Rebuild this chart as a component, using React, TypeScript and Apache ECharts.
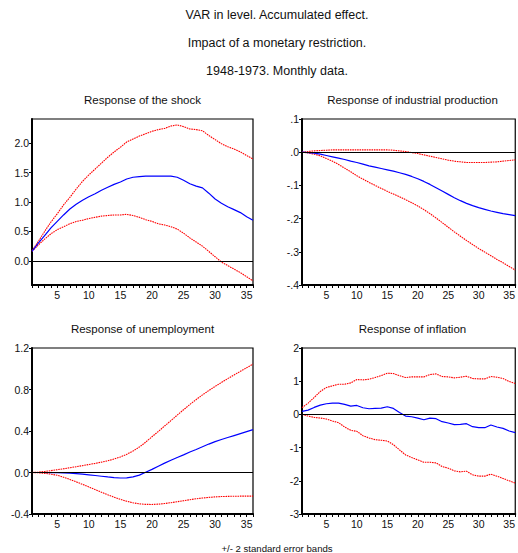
import { useEffect, useRef } from 'react';
import * as echarts from 'echarts';

const periods = [
  '1', '2', '3', '4', '5', '6', '7', '8', '9', '10', '11', '12',
  '13', '14', '15', '16', '17', '18', '19', '20', '21', '22', '23', '24',
  '25', '26', '27', '28', '29', '30', '31', '32', '33', '34', '35', '36'
];

const headerLines = [
  'VAR in level. Accumulated effect.',
  'Impact of a monetary restriction.',
  '1948-1973. Monthly data.'
];
const footerText = '+/- 2 standard error bands';

// Response of the shock
const shockUpper = [
  0.17, 0.33, 0.50, 0.66, 0.80, 0.95, 1.08, 1.22, 1.35, 1.46, 1.56, 1.66,
  1.76, 1.85, 1.93, 2.02, 2.07, 2.12, 2.16, 2.20, 2.23, 2.25, 2.29, 2.31,
  2.28, 2.24, 2.23, 2.21, 2.13, 2.06, 1.99, 1.94, 1.90, 1.85, 1.79, 1.73
];
const shockResponse = [
  0.16, 0.30, 0.43, 0.56, 0.67, 0.78, 0.88, 0.96, 1.03, 1.09, 1.14, 1.20,
  1.25, 1.30, 1.34, 1.39, 1.42, 1.43, 1.44, 1.44, 1.44, 1.44, 1.44, 1.42,
  1.37, 1.31, 1.27, 1.24, 1.15, 1.05, 0.98, 0.92, 0.87, 0.82, 0.75, 0.69
];
const shockLower = [
  0.16, 0.27, 0.37, 0.46, 0.53, 0.58, 0.63, 0.67, 0.69, 0.72, 0.74, 0.76,
  0.77, 0.78, 0.78, 0.79, 0.77, 0.74, 0.70, 0.67, 0.63, 0.61, 0.58, 0.54,
  0.47, 0.39, 0.32, 0.25, 0.16, 0.07, -0.02, -0.08, -0.14, -0.20, -0.27, -0.34
];

// Response of industrial production
const ipUpper = [
  0.000, 0.002, 0.004, 0.005, 0.006, 0.007, 0.007, 0.007, 0.007, 0.007, 0.007, 0.007,
  0.007, 0.007, 0.007, 0.006, 0.004, 0.002, -0.001, -0.004, -0.008, -0.012, -0.016, -0.020,
  -0.024, -0.027, -0.029, -0.031, -0.031, -0.031, -0.031, -0.030, -0.029, -0.027, -0.025, -0.023
];
const ipResponse = [
  0.000, -0.001, -0.003, -0.006, -0.010, -0.014, -0.018, -0.022, -0.027, -0.031, -0.036, -0.041,
  -0.045, -0.049, -0.053, -0.057, -0.062, -0.067, -0.073, -0.080, -0.088, -0.097, -0.107, -0.117,
  -0.127, -0.137, -0.146, -0.154, -0.161, -0.167, -0.172, -0.177, -0.181, -0.185, -0.188, -0.191
];
const ipLower = [
  0.000, -0.002, -0.006, -0.011, -0.019, -0.027, -0.037, -0.048, -0.059, -0.071, -0.081, -0.091,
  -0.100, -0.109, -0.118, -0.126, -0.134, -0.143, -0.152, -0.162, -0.173, -0.185, -0.198, -0.212,
  -0.226, -0.240, -0.253, -0.266, -0.278, -0.290, -0.301, -0.312, -0.323, -0.333, -0.344, -0.355
];

// Response of unemployment
const unempUpper = [
  0.000, 0.004, 0.010, 0.018, 0.027, 0.036, 0.046, 0.056, 0.066, 0.077, 0.088, 0.100,
  0.113, 0.130, 0.150, 0.175, 0.207, 0.245, 0.292, 0.345, 0.395, 0.448, 0.500, 0.553,
  0.605, 0.655, 0.703, 0.748, 0.790, 0.830, 0.868, 0.905, 0.940, 0.975, 1.010, 1.045
];
const unempResponse = [
  0.000, 0.000, 0.000, -0.001, -0.002, -0.004, -0.007, -0.011, -0.016, -0.022, -0.029, -0.036,
  -0.043, -0.049, -0.053, -0.052, -0.042, -0.025, 0.003, 0.030, 0.060, 0.090, 0.118, 0.145,
  0.170, 0.197, 0.222, 0.248, 0.274, 0.298, 0.318, 0.337, 0.356, 0.375, 0.394, 0.413
];
const unempLower = [
  0.000, -0.003, -0.008, -0.016, -0.027, -0.045, -0.067, -0.090, -0.114, -0.139, -0.165, -0.190,
  -0.215, -0.238, -0.259, -0.277, -0.292, -0.302, -0.307, -0.308, -0.305, -0.299, -0.291, -0.282,
  -0.272, -0.262, -0.253, -0.246, -0.240, -0.235, -0.232, -0.230, -0.229, -0.228, -0.228, -0.228
];

// Response of inflation
const inflUpper = [
  0.20, 0.34, 0.51, 0.69, 0.81, 0.86, 0.91, 0.91, 0.95, 1.05, 1.04, 1.06,
  1.11, 1.17, 1.24, 1.23, 1.17, 1.11, 1.13, 1.13, 1.13, 1.20, 1.22, 1.14,
  1.13, 1.10, 1.12, 1.15, 1.08, 1.07, 1.07, 1.14, 1.12, 1.08, 0.99, 0.93
];
const inflResponse = [
  0.09, 0.13, 0.21, 0.28, 0.32, 0.34, 0.34, 0.30, 0.25, 0.27, 0.20, 0.17,
  0.18, 0.19, 0.23, 0.18, 0.06, -0.05, -0.07, -0.11, -0.16, -0.11, -0.13, -0.22,
  -0.26, -0.31, -0.30, -0.28, -0.37, -0.40, -0.40, -0.32, -0.38, -0.42, -0.50, -0.55
];
const inflLower = [
  0.00, -0.05, -0.09, -0.11, -0.14, -0.20, -0.25, -0.38, -0.48, -0.51, -0.64, -0.71,
  -0.76, -0.78, -0.80, -0.91, -1.07, -1.22, -1.30, -1.37, -1.44, -1.44, -1.46, -1.57,
  -1.62, -1.70, -1.73, -1.71, -1.82, -1.86, -1.86, -1.80, -1.86, -1.93, -2.00, -2.07
];

const shockTicks = [0, 0.5, 1, 1.5, 2];

const FONT = '"Liberation Sans", Arial, Helvetica, sans-serif';
const INK = '#111';
const RED = '#ff0000';
const BLUE = '#0000ff';

interface Panel {
  title: string;
  upper: number[];
  mid: number[];
  lower: number[];
  left: number;
  top: number;
  min: number;
  max: number;
  interval?: number;
  ticks?: number[];
  format: (v: number) => string;
}

const panels: Panel[] = [
  {
    title: 'Response of the shock',
    upper: shockUpper, mid: shockResponse, lower: shockLower,
    left: 32, top: 119, min: -0.41, max: 2.41, ticks: shockTicks,
    format: (v) => (Math.round(v * 10) / 10).toFixed(1)
  },
  {
    title: 'Response of industrial production',
    upper: ipUpper, mid: ipResponse, lower: ipLower,
    left: 302, top: 119, min: -0.4, max: 0.1, interval: 0.1,
    format: (v) => {
      const r = Math.round(v * 10);
      return (r < 0 ? '-' : '') + '.' + Math.abs(r);
    }
  },
  {
    title: 'Response of unemployment',
    upper: unempUpper, mid: unempResponse, lower: unempLower,
    left: 32, top: 348, min: -0.4, max: 1.2, interval: 0.4,
    format: (v) => (Math.round(v * 10) / 10).toFixed(1)
  },
  {
    title: 'Response of inflation',
    upper: inflUpper, mid: inflResponse, lower: inflLower,
    left: 302, top: 348, min: -3, max: 2, interval: 1,
    format: (v) => String(Math.round(v))
  }
];

const GRID_W = 221;
const GRID_H = 166;

function buildOption(): echarts.EChartsCoreOption {
  const titles = [
    ...headerLines.map((text, i) => ({
      text, left: 277, top: 8 + i * 28, textAlign: 'center', padding: 0,
      textStyle: { fontFamily: FONT, fontSize: 12.5, fontWeight: 'normal', color: INK }
    })),
    ...panels.map((p) => ({
      text: p.title, left: p.left + GRID_W / 2, top: p.top - 25, textAlign: 'center', padding: 0,
      textStyle: { fontFamily: FONT, fontSize: 11.5, fontWeight: 'normal', color: INK }
    })),
    {
      text: footerText, left: 277, top: 543, textAlign: 'center', padding: 0,
      textStyle: { fontFamily: FONT, fontSize: 9.6, fontWeight: 'normal', color: INK }
    }
  ];

  const grid = panels.map((p) => ({
    left: p.left, top: p.top, width: GRID_W, height: GRID_H,
    show: true, borderColor: '#000', borderWidth: 1.2, backgroundColor: 'transparent'
  }));

  const xAxis = panels.map((_, i) => ({
    type: 'category',
    gridIndex: i,
    data: periods,
    boundaryGap: false,
    axisLine: { onZero: false, lineStyle: { color: '#000', width: 2 } },
    axisTick: { show: true, interval: 0, length: 3, lineStyle: { color: '#000', width: 1 } },
    axisLabel: {
      interval: (_idx: number, val: string) => Number(val) % 5 === 0,
      fontFamily: FONT, fontSize: 10.5, color: INK, margin: 4
    },
    splitLine: { show: false }
  }));

  const yAxis = panels.map((p, i) => ({
    type: 'value',
    gridIndex: i,
    min: p.min,
    max: p.max,
    ...(p.interval ? { interval: p.interval } : {}),
    axisLine: { show: true, onZero: false, lineStyle: { color: '#000', width: 2 } },
    axisTick: {
      show: true, length: 3, lineStyle: { color: '#000', width: 1 },
      ...(p.ticks ? { customValues: p.ticks } : {})
    },
    axisLabel: {
      fontFamily: FONT, fontSize: 10.5, color: INK, margin: 3,
      formatter: (v: number) => p.format(v),
      ...(p.ticks ? { customValues: p.ticks } : {})
    },
    splitLine: { show: false }
  }));

  const series = panels.flatMap((p, i) => [
    {
      name: p.title + ' upper', type: 'line', xAxisIndex: i, yAxisIndex: i,
      data: p.upper, showSymbol: false, smooth: false,
      lineStyle: { color: RED, width: 1.1, type: [1.6, 0.8] }
    },
    {
      name: p.title + ' lower', type: 'line', xAxisIndex: i, yAxisIndex: i,
      data: p.lower, showSymbol: false, smooth: false,
      lineStyle: { color: RED, width: 1.1, type: [1.6, 0.8] }
    },
    {
      name: p.title, type: 'line', xAxisIndex: i, yAxisIndex: i,
      data: p.mid, showSymbol: false, smooth: false,
      lineStyle: { color: BLUE, width: 1.2 },
      markLine: {
        silent: true,
        symbol: ['none', 'none'],
        label: { show: false },
        lineStyle: { color: '#000', width: 1, type: 'solid' },
        data: [{ yAxis: 0 }]
      }
    }
  ]);

  return { animation: false, title: titles, grid, xAxis, yAxis, series };
}

export default function App() {
  const ref = useRef<HTMLDivElement | null>(null);

  useEffect(() => {
    if (!ref.current) return undefined;
    const chart = echarts.init(ref.current, undefined, { renderer: 'svg' });
    chart.setOption(buildOption());
    return () => chart.dispose();
  }, []);

  return (
    <div
      ref={ref}
      style={{ position: 'fixed', left: 0, top: 0, width: 518, height: 553, background: '#fff' }}
    />
  );
}
